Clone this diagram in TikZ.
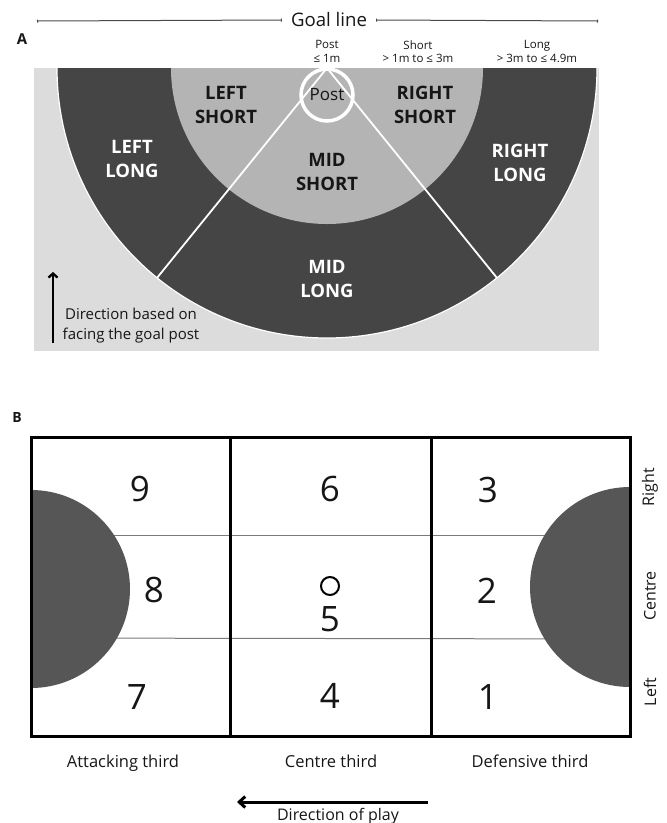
\documentclass[tikz,border=0pt]{standalone}
\usepackage{fontspec}
\setmainfont{Open Sans}
\definecolor{CourtBg}{HTML}{DCDCDC}
\definecolor{CourtLong}{HTML}{454545}
\definecolor{CourtShort}{HTML}{B4B4B4}
\definecolor{CourtCircle}{HTML}{565656}
\definecolor{CourtLine}{HTML}{7A7A7A}
\definecolor{CourtRule}{HTML}{4A4A4A}
\definecolor{CourtText}{HTML}{161616}
\usepackage{tikz}
\usetikzlibrary{arrows.meta, positioning, calc}
\tikzset{
    % Zone labels of panel A
    zone label/.style={
        align=center,
        inner sep=0pt,
        font=\fontsize{18.5}{24}\selectfont\bfseries
    },
    zone label dark/.style={
        zone label,
        text=CourtText
    },
    zone label light/.style={
        zone label,
        text=white
    },
    band label/.style={
        align=center,
        inner sep=0pt,
        text=CourtText,
        font=\fontsize{11.5}{13.3}\selectfont
    },
    panel letter/.style={
        inner sep=0pt,
        text=CourtText,
        font=\fontsize{15}{18}\selectfont\bfseries
    },
    post ring/.style={
        circle,
        draw=white,
        line width=3.5pt,
        minimum size=52pt,
        inner sep=0pt,
        text=CourtText,
        font=\fontsize{17}{20}\selectfont
    },
    note text/.style={
        align=center,
        inner sep=0pt,
        text=CourtText,
        font=\fontsize{15}{20}\selectfont
    },
    % Grid of panel B
    cell number/.style={
        inner sep=0pt,
        text=CourtText,
        font=\fontsize{35}{40}\selectfont
    },
    third label/.style={
        inner sep=0pt,
        anchor=base,
        text=CourtText,
        font=\fontsize{16.5}{20}\selectfont
    },
    side label/.style={
        inner sep=0pt,
        rotate=90,
        text=CourtText,
        font=\fontsize{16}{20}\selectfont
    },
    grid border/.style={
        line width=3pt,
        black
    },
    split line/.style={
        line width=1pt,
        CourtLine
    },
    goal rule/.style={
        {Bar[width=3pt]}-{Bar[width=3pt]},
        line width=1pt,
        CourtRule
    },
    arrow style/.style={
        -{Straight Barb[length=4pt,width=9pt]},
        line width=2.3pt,
        black
    }
}

\begin{document}
\begin{tikzpicture}[x=1pt, y=-1pt]
    \useasboundingbox (0,0) rectangle (667,823);

    % Panel A: shooting zones around the post
    \node[font=\fontsize{18.6}{22}\selectfont, text=CourtText, inner xsep=9pt] (goal-line) at (329,20) {Goal line};
    \coordinate (goal-left) at (37,21);
    \coordinate (goal-right) at (598,21);
    \draw[goal rule] (goal-left) -- (goal-line.west);
    \draw[goal rule] (goal-line.east) -- (goal-right);

    \node[panel letter] (letter-a) at (22,39) {A};

    \node[band label] (band-post) at (327,51.5) {Post\\≤ 1m};
    \node[band label] (band-short) at (418,51.5) {Short\\> 1m to ≤ 3m};
    \node[band label] (band-long) at (537,51.5) {Long\\> 3m to ≤ 4.9m};

    \fill[CourtBg] (34,68) rectangle (599,351);
    \coordinate (post-top) at (327,68);
    \fill[CourtLong] (57,68) arc[start angle=180, end angle=0, radius=270] -- cycle;
    \draw[white, line width=1.2pt] (57,68) arc[start angle=180, end angle=0, radius=270];
    \fill[CourtShort] (171,68) arc[start angle=180, end angle=0, radius=156] -- cycle;

    \coordinate (edge-left) at ($(post-top)+(129:270)$);
    \coordinate (edge-right) at ($(post-top)+(51:270)$);
    \draw[white, line width=1.8pt] (post-top) -- (edge-left);
    \draw[white, line width=1.8pt] (post-top) -- (edge-right);

    \node[post ring] (post) at (327,95) {Post};

    \node[zone label dark] (left-short) at (226,105) {LEFT\\SHORT};
    \node[zone label dark] (right-short) at (425,105) {RIGHT\\SHORT};
    \node[zone label dark] (mid-short) at (327,172) {MID\\SHORT};
    \node[zone label light] (left-long) at (132,159) {LEFT\\LONG};
    \node[zone label light] (right-long) at (520,163) {RIGHT\\LONG};
    \node[zone label light] (mid-long) at (327,279) {MID\\LONG};

    \node[note text] (facing-note) at (131,326) {Direction based on\\facing the goal post};
    \coordinate (facing-start) at (53,343);
    \coordinate (facing-end) at (53,272);
    \draw[arrow style] (facing-start) -- (facing-end);

    % Panel B: court thirds and channels
    \node[panel letter, font=\fontsize{14}{17}\selectfont\bfseries] (letter-b) at (17,417) {B};

    \draw[split line] (31,535) -- (630,535);
    \draw[split line] (31,638) -- (630,639);
    \fill[CourtCircle] (31,490) arc[start angle=-90, end angle=90, radius=99] -- cycle;
    \fill[CourtCircle] (630,487) arc[start angle=-90, end angle=-270, radius=100] -- cycle;

    \draw[grid border] (31,437) rectangle (630,736);
    \draw[grid border] (230,437) -- (230,736);
    \draw[grid border] (431,437) -- (431,736);

    \node[cell number] (zone-9) at (140,489) {9};
    \node[cell number] (zone-6) at (330,489) {6};
    \node[cell number] (zone-3) at (488,490) {3};
    \node[cell number] (zone-8) at (154,590) {8};
    \node[circle, draw=black, line width=2pt, minimum size=18pt, inner sep=0pt] (centre-circle) at (330,586) {};
    \node[cell number] (zone-5) at (330,619) {5};
    \node[cell number] (zone-2) at (487,591) {2};
    \node[cell number] (zone-7) at (137,697) {7};
    \node[cell number] (zone-4) at (330,696) {4};
    \node[cell number] (zone-1) at (488,697) {1};

    \node[side label] (side-right) at (650,487) {Right};
    \node[side label] (side-centre) at (650,596) {Centre};
    \node[side label] (side-left) at (650,692) {Left};

    \node[third label] (third-attack) at (123,767) {Attacking third};
    \node[third label] (third-centre) at (331,767) {Centre third};
    \node[third label] (third-defence) at (530,767) {Defensive third};

    \coordinate (play-start) at (428,802);
    \coordinate (play-end) at (237,802);
    \draw[arrow style, line width=3pt, -{Straight Barb[length=6pt,width=11pt]}] (play-start) -- (play-end);
    \node[third label, font=\fontsize{16}{20}\selectfont] (play-label) at (338,820) {Direction of play};
\end{tikzpicture}
\end{document}
